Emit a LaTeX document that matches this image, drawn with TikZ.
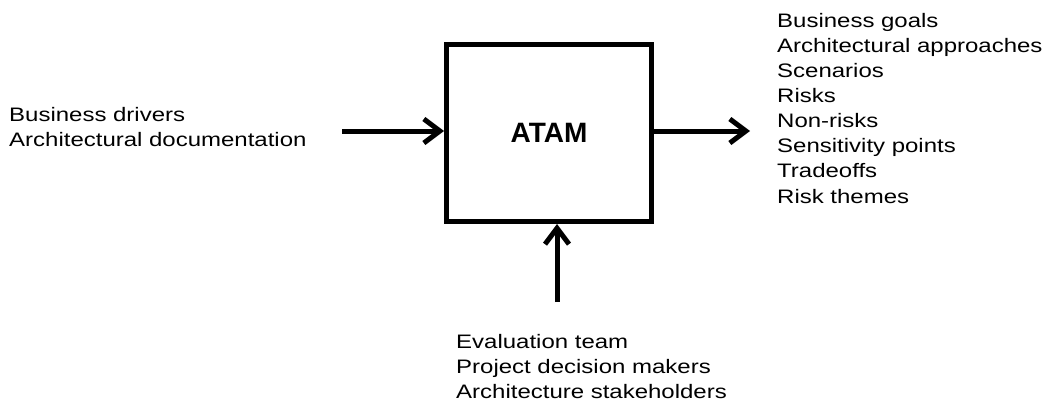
\documentclass[tikz,border=0pt]{standalone}
\usepackage{fontspec}
\setmainfont{Liberation Sans}[FakeStretch=1.23]
\newfontfamily\boxfont{Liberation Sans}
\usetikzlibrary{arrows.meta}

\begin{document}
\begin{tikzpicture}[x=1pt,y=-1pt,
        box/.style={draw,line width=5pt,minimum width=205pt,minimum height=177pt,
          font=\boxfont\bfseries\fontsize{28}{30}\selectfont},
        flow/.style={line width=5pt,-{Straight Barb[length=16pt,width=24pt]}},
        list/.style={anchor=north west,inner sep=0pt,align=left,
          font=\fontsize{19.5}{25.1}\selectfont},
        ]
        \useasboundingbox (0,0) rectangle (1043,402);
        \node[box] (atam) at (549,133) {ATAM};
        \node[list] (inputs) at (9,107) {Business drivers\\Architectural documentation};
        \node[list] (outputs) at (777,13) {Business goals\\Architectural approaches\\Scenarios\\Risks\\Non-risks\\Sensitivity points\\Tradeoffs\\Risk themes};
        \node[list] (people) at (456,334) {Evaluation team\\Project decision makers\\Architecture stakeholders};
        \coordinate (inL) at (342,131);
        \coordinate (outR) at (750,131);
        \coordinate (inB) at (557,302);
        \draw[flow] (inL) -- (inL -| atam.west);
        \draw[flow] (outR -| atam.east) -- (outR);
        \draw[flow] (inB) -- (inB |- atam.south);
      \end{tikzpicture}
\end{document}
